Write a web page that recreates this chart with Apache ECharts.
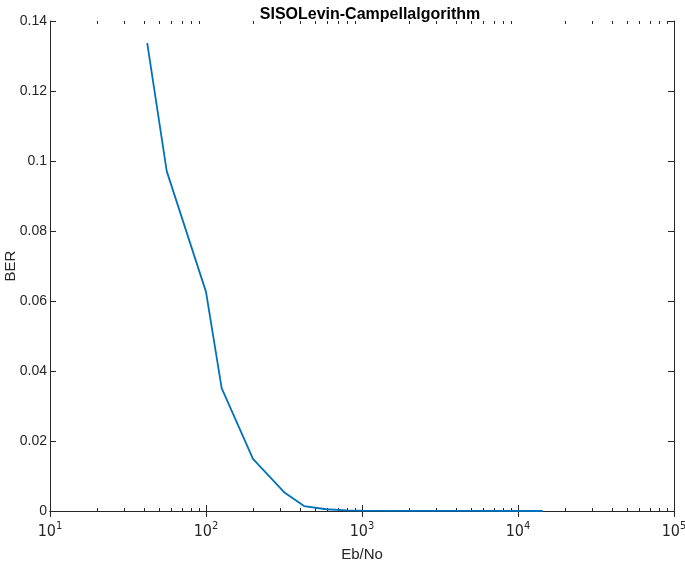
<!DOCTYPE html>
<html>
<head>
<meta charset="utf-8">
<script src="https://cdn.jsdelivr.net/npm/echarts@6/dist/echarts.min.js"></script>
<style>
html,body{margin:0;padding:0;background:#fff;}
#chart{width:685px;height:565px;}
</style>
</head>
<body>
<div id="chart"></div>
<script>
// Data
const ebNo = [42, 56, 100, 126, 200, 320, 425, 590, 800, 1000, 2000, 5000, 14400];
const ber  = [0.1337, 0.0971, 0.0626, 0.0351, 0.0149, 0.0052, 0.0014, 0.0005, 0.0002, 0.0001, 0.00003, 0.00001, 0];
const yTicks = [0, 0.02, 0.04, 0.06, 0.08, 0.1, 0.12, 0.14];
const xMinorTickValues = [20,30,40,50,60,70,80,90,200,300,400,500,600,700,800,900,
  2000,3000,4000,5000,6000,7000,8000,9000,20000,30000,40000,50000,60000,70000,80000,90000];

const textColor = '#262626';
const fontFam = '"Liberation Sans", Arial, Helvetica, sans-serif';
const narrowFam = '"Liberation Sans Narrow", "DejaVu Sans Condensed", "Liberation Sans", sans-serif';
const minorLog = xMinorTickValues.map(v => Math.log10(v));

const chart = echarts.init(document.getElementById('chart'));

function minorAxis(pos) {
  return {
    type: 'value', position: pos, min: 1, max: 5, gridIndex: 0,
    axisLine: { show: false },
    axisTick: { show: true, inside: true, length: 3, customValues: minorLog, lineStyle: { color: textColor, width: 1 } },
    axisLabel: { show: false }, splitLine: { show: false }
  };
}

chart.setOption({
  animation: false,
  title: {
    text: 'SISOLevin-Campellalgorithm',
    left: 365, top: 2, textAlign: 'center',
    textStyle: { fontFamily: fontFam, fontSize: 16, fontWeight: 'bold', color: '#000' }
  },
  grid: { left: 50, right: 11, top: 21, bottom: 54, containLabel: false, outerBoundsMode: 'none' },
  xAxis: [
    {
      type: 'log', logBase: 10, min: 10, max: 100000, position: 'bottom',
      name: 'Eb/No', nameLocation: 'middle', nameGap: 36, nameMoveOverlap: false,
      nameTextStyle: { fontFamily: fontFam, fontSize: 15, color: textColor },
      axisLine: { show: true, lineStyle: { color: textColor, width: 1 } },
      axisTick: { show: true, inside: true, length: 6, lineStyle: { color: textColor } },
      axisLabel: {
        color: textColor, margin: 10,
        formatter: function (v) { return '{b|10}{s|' + Math.round(Math.log10(v)) + '}'; },
        rich: {
          b: { fontFamily: narrowFam, fontSize: 16, color: textColor, verticalAlign: 'bottom' },
          s: { fontFamily: narrowFam, fontSize: 11, color: textColor, verticalAlign: 'top', padding: [0,0,8,0] }
        }
      },
      splitLine: { show: false }
    },
    {
      type: 'log', logBase: 10, min: 10, max: 100000, position: 'top',
      axisLine: { show: true, lineStyle: { color: textColor, width: 1 } },
      axisTick: { show: true, inside: true, length: 6, lineStyle: { color: textColor } },
      axisLabel: { show: false }, splitLine: { show: false }
    },
    minorAxis('bottom'),
    minorAxis('top')
  ],
  yAxis: [
    {
      type: 'value', min: 0, max: 0.14, interval: 0.02, position: 'left',
      name: 'BER', nameLocation: 'middle', nameGap: 32, nameRotate: 90, nameMoveOverlap: false,
      nameTextStyle: { fontFamily: fontFam, fontSize: 15, color: textColor },
      axisLine: { show: true, lineStyle: { color: textColor, width: 1 } },
      axisTick: { show: true, inside: true, length: 6, lineStyle: { color: textColor } },
      axisLabel: {
        color: textColor, fontFamily: fontFam, fontSize: 14, margin: 3,
        formatter: function (v) { return String(+v.toFixed(2)); }
      },
      splitLine: { show: false }
    },
    {
      type: 'value', min: 0, max: 0.14, interval: 0.02, position: 'right',
      axisLine: { show: true, lineStyle: { color: textColor, width: 1 } },
      axisTick: { show: true, inside: true, length: 6, lineStyle: { color: textColor } },
      axisLabel: { show: false }, splitLine: { show: false }
    }
  ],
  series: [{
    type: 'line', xAxisIndex: 0, yAxisIndex: 0,
    data: ebNo.map((x, i) => [x, ber[i]]),
    showSymbol: false, symbol: 'none',
    lineStyle: { color: '#0072BD', width: 1.8 },
    silent: true
  }]
});
</script>
</body>
</html>
